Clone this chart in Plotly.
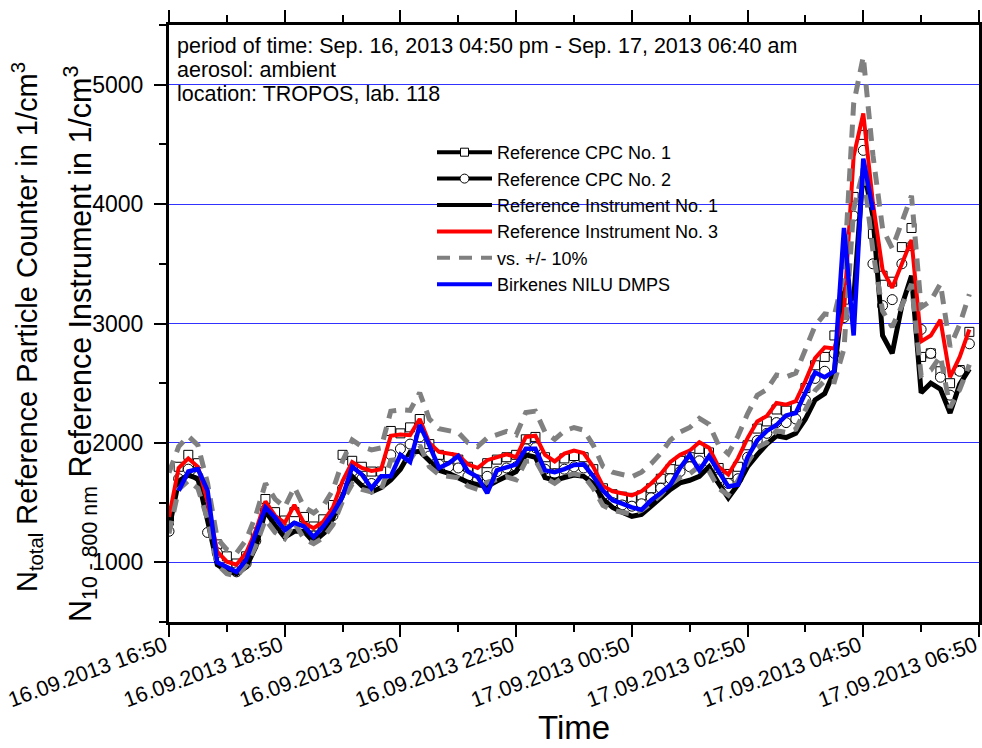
import pandas as pd
import plotly.graph_objects as go

# time grid (10-minute steps, 16:50 -> 06:40)
times = pd.date_range('2013-09-16 16:50', periods=84, freq='10min')

ref_instr3 = [1380, 1790, 1870, 1800, 1510, 1090, 1005, 980, 1080, 1265,
              1510, 1390, 1330, 1480, 1330, 1285, 1340, 1460, 1680, 1840,
              1790, 1765, 1780, 2060, 2070, 2065, 2200, 2000, 1925, 1910,
              1897, 1820, 1790, 1855, 1880, 1905, 1880, 2050, 2060, 1900,
              1845, 1910, 1935, 1915, 1800, 1640, 1595, 1575, 1560, 1595,
              1660, 1740, 1840, 1900, 1935, 2005, 1960, 1800, 1735, 1870,
              2040, 2180, 2225, 2335, 2320, 2350, 2520, 2710, 2800, 2790,
              3100, 4400, 4760, 4008, 3450, 3300, 3500, 3700, 2850, 2900,
              3030, 2550, 2720, 2950]

band_upper = [1750, 1969, 2057, 1980, 1661, 1199, 1106, 1078, 1188, 1392,
              1661, 1529, 1463, 1628, 1463, 1414, 1474, 1606, 1848, 2024,
              1969, 1942, 1958, 2266, 2277, 2272, 2420, 2200, 2118, 2101,
              2087, 2002, 1969, 2041, 2068, 2096, 2068, 2255, 2266, 2090,
              2030, 2101, 2129, 2107, 1980, 1804, 1755, 1733, 1716, 1755,
              1826, 1914, 2024, 2090, 2129, 2206, 2156, 1980, 1909, 2057,
              2244, 2398, 2448, 2569, 2552, 2585, 2772, 2981, 3080, 3069,
              3410, 4840, 5236, 4409, 3795, 3630, 3850, 4070, 3135, 3190,
              3333, 2805, 2992, 3245]

band_lower = [1242, 1611, 1683, 1620, 1359, 981, 905, 882, 972, 1139,
              1359, 1251, 1197, 1332, 1197, 1157, 1206, 1314, 1512, 1656,
              1611, 1589, 1602, 1854, 1863, 1859, 1980, 1800, 1733, 1719,
              1707, 1638, 1611, 1670, 1692, 1715, 1692, 1845, 1854, 1710,
              1661, 1719, 1742, 1724, 1620, 1476, 1436, 1418, 1404, 1436,
              1494, 1566, 1656, 1710, 1742, 1805, 1764, 1620, 1562, 1683,
              1836, 1962, 2003, 2102, 2088, 2115, 2268, 2439, 2520, 2511,
              2790, 3960, 4284, 3607, 3105, 2970, 3150, 3330, 2565, 2610,
              2727, 2295, 2448, 2655]

ref_instr1 = [1280, 1680, 1730, 1700, 1350, 980, 930, 905, 960, 1130,
              1430, 1310, 1210, 1260, 1260, 1170, 1240, 1370, 1560, 1720,
              1640, 1590, 1625, 1690, 1780, 1920, 1930, 1850, 1770, 1745,
              1710, 1670, 1650, 1635, 1680, 1720, 1760, 1900, 1880, 1710,
              1687, 1710, 1730, 1720, 1660, 1530, 1460, 1420, 1385, 1400,
              1470, 1550, 1610, 1665, 1687, 1720, 1800, 1660, 1540, 1650,
              1800, 1900, 1990, 2060, 2045, 2080, 2200, 2360, 2414, 2600,
              3300, 3200, 4300, 3900, 2900, 2750, 3150, 3400, 2420, 2500,
              2450, 2250, 2490, 2620]

cpc1 = [1350, 1800, 1900, 1830, 1480, 1150, 1050, 990, 1050, 1250,
        1530, 1420, 1350, 1420, 1380, 1300, 1360, 1480, 1900, 1850,
        1800, 1760, 1760, 2100, 2080, 2130, 2200, 1990, 1900, 1880,
        1860, 1800, 1760, 1830, 1860, 1880, 1900, 2030, 2050, 1880,
        1820, 1870, 1890, 1880, 1780, 1620, 1570, 1550, 1540, 1560,
        1620, 1700, 1780, 1850, 1880, 1950, 1920, 1790, 1740, 1800,
        1980, 2120, 2180, 2280, 2270, 2300, 2460, 2650, 2720, 2900,
        3200, 4060, 4580, 3750, 3400, 3350, 3640, 3800, 2720, 2750,
        2600, 2500, 2610, 2930]

cpc2 = [1260, 1700, 1780, 1720, 1250, 1080, 960, 920, 990, 1180,
        1440, 1330, 1260, 1300, 1300, 1220, 1270, 1390, 1620, 1760,
        1700, 1660, 1670, 1900, 1950, 1990, 2050, 1890, 1820, 1800,
        1790, 1720, 1690, 1720, 1760, 1790, 1800, 1950, 1960, 1780,
        1740, 1780, 1800, 1790, 1700, 1560, 1500, 1480, 1470, 1490,
        1540, 1620, 1700, 1760, 1800, 1850, 1840, 1700, 1660, 1700,
        1880, 2020, 2080, 2170, 2170, 2200, 2360, 2540, 2600, 2750,
        3050, 3900, 4450, 3500, 3150, 3200, 3500, 3650, 2950, 2750,
        2550, 2400, 2600, 2830]

birkenes = [None, 1600, 1760, 1780, 1600, 1000, 955, 920, 1020, 1250,
            1460, 1375, 1270, 1330, 1300, 1212, 1300, 1410, 1550, 1800,
            1735, 1620, 1720, 1720, 1900, 1840, 2150, 1980, 1790, 1830,
            1890, 1760, 1715, 1580, 1770, 1795, 1820, 1950, 1950, 1770,
            1755, 1780, 1815, 1820, 1720, 1600, 1520, 1492, 1460, 1440,
            1520, 1580, 1650, 1790, 1900, 1770, 1890, 1760, 1635, 1650,
            1880, 2020, 2100, 2150, 2230, 2250, 2420, 2590, 2550, 2600,
            3800, 2900, 4380, 3950, None, None, None, None, None, None,
            None, None, None, None]

x_tick_start = '2013-09-16 16:50'
x_range = ['2013-09-16 16:50', '2013-09-17 06:50']

FONT = 'Liberation Sans, Arial, sans-serif'
GRAY = 'rgb(128,128,128)'
DASH = '13px,9px'

fig = go.Figure()

# plotted data
fig.add_trace(go.Scatter(x=times, y=cpc1, mode='markers', showlegend=False,
                         marker=dict(symbol='square', size=9, color='white',
                                     line=dict(color='black', width=1))))
fig.add_trace(go.Scatter(x=times, y=cpc2, mode='markers', showlegend=False,
                         marker=dict(symbol='circle', size=10, color='white',
                                     line=dict(color='black', width=1))))
fig.add_trace(go.Scatter(x=times, y=ref_instr1, mode='lines', showlegend=False,
                         line=dict(color='black', width=5)))
fig.add_trace(go.Scatter(x=times, y=ref_instr3, mode='lines', showlegend=False,
                         line=dict(color='red', width=4)))
fig.add_trace(go.Scatter(x=times, y=band_upper, mode='lines', showlegend=False,
                         line=dict(color=GRAY, width=5, dash=DASH)))
fig.add_trace(go.Scatter(x=times, y=band_lower, mode='lines', showlegend=False,
                         line=dict(color=GRAY, width=5, dash=DASH)))
fig.add_trace(go.Scatter(x=times, y=birkenes, mode='lines', showlegend=False,
                         line=dict(color='blue', width=4.5)))

# legend entries
fig.add_trace(go.Scatter(x=[None], y=[None], mode='lines+markers', name='Reference CPC No. 1',
                         line=dict(color='black', width=4),
                         marker=dict(symbol='square', size=8, color='white',
                                     line=dict(color='black', width=1))))
fig.add_trace(go.Scatter(x=[None], y=[None], mode='lines+markers', name='Reference CPC No. 2',
                         line=dict(color='black', width=4),
                         marker=dict(symbol='circle', size=9, color='white',
                                     line=dict(color='black', width=1))))
fig.add_trace(go.Scatter(x=[None], y=[None], mode='lines', name='Reference Instrument No. 1',
                         line=dict(color='black', width=4)))
fig.add_trace(go.Scatter(x=[None], y=[None], mode='lines', name='Reference Instrument No. 3',
                         line=dict(color='red', width=4)))
fig.add_trace(go.Scatter(x=[None], y=[None], mode='lines', name='vs. +/- 10%',
                         line=dict(color=GRAY, width=4, dash=DASH)))
fig.add_trace(go.Scatter(x=[None], y=[None], mode='lines', name='Birkenes NILU DMPS',
                         line=dict(color='blue', width=4)))

L, R, T, B = 169, 3, 25, 126
W, H = 982, 748
PW, PH = W - L - R, H - T - B

def px_x(px):
    return (px - L) / PW

def px_y(py):
    return (H - B - py) / PH

fig.update_layout(
    width=W, height=H,
    margin=dict(l=L, r=R, t=T, b=B, pad=0, autoexpand=False),
    plot_bgcolor='white', paper_bgcolor='white',
    font=dict(family=FONT, color='black', size=18),
    legend=dict(x=px_x(432), y=px_y(134), xanchor='left', yanchor='top',
                bgcolor='rgba(0,0,0,0)', font=dict(size=18, family=FONT),
                itemwidth=55, tracegroupgap=0),
    xaxis=dict(type='date', range=x_range, tick0=x_tick_start, dtick=7200000,
               tickformat='%d.%m.%Y %H:%M', tickangle=-20, automargin=False,
               ticks='outside', ticklen=12, tickwidth=2, tickcolor='black',
               ticklabelstandoff=-12, ticklabelshift=-4, ticklabeloverflow='allow',
               showline=True, linewidth=3, linecolor='black', mirror='ticks',
               showgrid=False, zeroline=False,
               tickfont=dict(size=21.5, family=FONT),
               minor=dict(tick0=x_tick_start, dtick=3600000, ticks='outside',
                          ticklen=7, tickwidth=2, tickcolor='black', showgrid=False)),
    yaxis=dict(range=[500, 5500], tick0=0, dtick=1000, automargin=False,
               ticks='outside', ticklen=12, tickwidth=2, tickcolor='black',
               ticklabelstandoff=6, ticklabeloverflow='allow',
               showline=True, linewidth=3, linecolor='black', mirror='ticks',
               showgrid=True, gridcolor='rgb(50,50,255)', gridwidth=1, zeroline=False,
               tickfont=dict(size=23, family=FONT),
               minor=dict(dtick=500, ticks='outside', ticklen=7, tickwidth=2,
                          tickcolor='black', showgrid=False)),
)

annotations = [
    dict(text='period of time: Sep. 16, 2013 04:50 pm - Sep. 17, 2013 06:40 am',
         x=px_x(175), y=px_y(46), xanchor='left', yanchor='middle'),
    dict(text='aerosol: ambient', x=px_x(175), y=px_y(70), xanchor='left', yanchor='middle'),
    dict(text='location: TROPOS, lab. 118', x=px_x(175), y=px_y(94), xanchor='left', yanchor='middle'),
]
for a in annotations:
    a.update(xref='paper', yref='paper', showarrow=False, font=dict(size=21.5, family=FONT))
    fig.add_annotation(**a)

fig.add_annotation(text='N<sub>total</sub> Reference Particle Counter in 1/cm<sup>3</sup>',
                   x=px_x(27), y=px_y(327), xref='paper', yref='paper', textangle=-90,
                   showarrow=False, xanchor='center', yanchor='middle',
                   font=dict(size=29, family=FONT))
fig.add_annotation(text='N<sub>10 - 800 nm</sub> Reference Instrument in 1/cm<sup>3</sup>',
                   x=px_x(80), y=px_y(344), xref='paper', yref='paper', textangle=-90,
                   showarrow=False, xanchor='center', yanchor='middle',
                   font=dict(size=30.5, family=FONT))
fig.add_annotation(text='Time', x=0.5, y=px_y(727), xref='paper', yref='paper',
                   showarrow=False, xanchor='center', yanchor='middle',
                   font=dict(size=33, family=FONT))

fig.write_html('out.html', config={'displayModeBar': False},
               post_script="document.body.style.margin='0px';document.body.style.padding='0px';"
                           "document.documentElement.style.overflow='hidden';")
